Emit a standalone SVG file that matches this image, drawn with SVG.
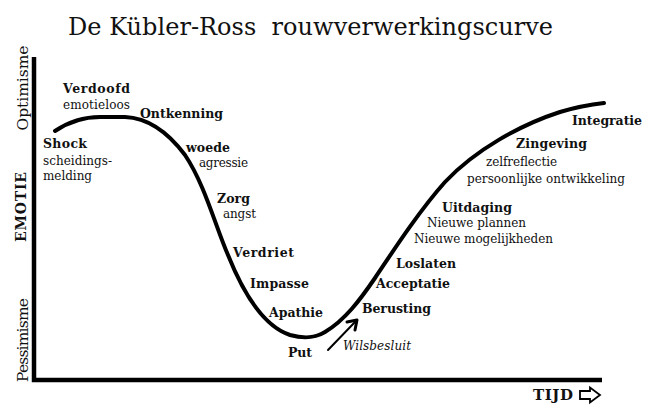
<svg xmlns="http://www.w3.org/2000/svg" width="650" height="416" viewBox="0 0 650 416">
<style>
text{font-family:"DejaVu Serif","Liberation Serif",serif;fill:#111}
.b{font-weight:bold;font-size:12.5px}
.r{font-size:12px}
.ax{font-size:15.5px}
.line{fill:none;stroke:#000;stroke-linecap:round;stroke-linejoin:round}
</style>
<rect width="650" height="416" fill="#fff"/>
<text id="title" x="68" y="35" font-size="24" textLength="485" xml:space="preserve">De Kübler-Ross  rouwverwerkingscurve</text>
<g id="connectors">
<path id="axes" d="M34,57 V380 H602" fill="none" stroke="#000" stroke-width="4.5" stroke-linejoin="miter"/>
<path id="curve" class="line" stroke-width="4" d="M55,131 C70,121 85,117 100,117 L125,117 C150,118 170,135 185,155 C205,185 215,225 228,255 C240,285 260,325 290,335 C305,339 315,338 325,332 C345,320 360,300 375,278 C395,248 420,210 445,182 C475,150 520,125 560,112 C580,106 595,104 604,103"/>
<path id="wilsarrow" class="line" stroke-width="2" d="M328,350 L355,322"/>
<path class="line" stroke-width="3" stroke-linecap="butt" stroke-linejoin="miter" d="M347,322 L357,320 L355,330"/>
<polygon id="tijdarrow" points="580,391 590,391 590,387.5 600,395 590,402.5 590,399 580,399" fill="#fff" stroke="#000" stroke-width="1.8" stroke-linejoin="miter"/>
</g>
<g id="axis-labels">
<text class="ax" transform="translate(28,88) rotate(-90)" text-anchor="middle" textLength="85">Optimisme</text>
<text transform="translate(26,207) rotate(-90)" text-anchor="middle" font-weight="bold" font-size="14" textLength="70">EMOTIE</text>
<text class="ax" transform="translate(28,340) rotate(-90)" text-anchor="middle" textLength="84">Pessimisme</text>
<text id="tijd" x="533" y="400" font-weight="bold" font-size="15" textLength="40">TIJD</text>
</g>
<g id="shock"><text class="b" x="43" y="148" textLength="44">Shock</text><text class="r" x="43" y="165" textLength="69">scheidings-</text><text class="r" x="43" y="180" textLength="49">melding</text></g>
<g id="verdoofd"><text class="b" x="63" y="93" textLength="67">Verdoofd</text><text class="r" x="63" y="109" textLength="67">emotieloos</text></g>
<g id="ontkenning"><text class="b" x="140" y="118" textLength="83">Ontkenning</text></g>
<g id="woede"><text class="b" x="186" y="152" textLength="44">woede</text><text class="r" x="199" y="167" textLength="49">agressie</text></g>
<g id="zorg"><text class="b" x="217" y="203" textLength="33">Zorg</text><text class="r" x="223" y="218" textLength="33">angst</text></g>
<g id="verdriet"><text class="b" x="233" y="257" textLength="61">Verdriet</text></g>
<g id="impasse"><text class="b" x="250" y="288" textLength="59">Impasse</text></g>
<g id="apathie"><text class="b" x="269" y="317" textLength="54">Apathie</text></g>
<g id="put"><text class="b" x="288" y="357" textLength="24">Put</text></g>
<g id="wilsbesluit"><text x="343" y="350" font-size="12" font-style="italic" textLength="68">Wilsbesluit</text></g>
<g id="berusting"><text class="b" x="362" y="313" textLength="69">Berusting</text></g>
<g id="acceptatie"><text class="b" x="376" y="288" textLength="74">Acceptatie</text></g>
<g id="loslaten"><text class="b" x="396" y="268" textLength="60">Loslaten</text></g>
<g id="uitdaging"><text class="b" x="442" y="212" textLength="70">Uitdaging</text><text class="r" x="427" y="227" textLength="99">Nieuwe plannen</text><text class="r" x="414" y="243" textLength="139">Nieuwe mogelijkheden</text></g>
<g id="zingeving"><text class="b" x="516" y="148" textLength="71">Zingeving</text><text class="r" x="486" y="166" textLength="71">zelfreflectie</text><text class="r" x="467" y="183" textLength="158">persoonlijke ontwikkeling</text></g>
<g id="integratie"><text class="b" x="572" y="125" textLength="70">Integratie</text></g>
</svg>
